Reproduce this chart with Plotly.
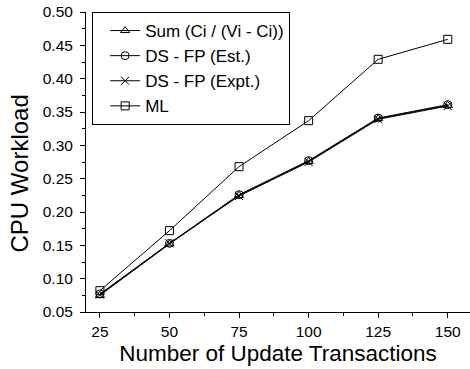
import plotly.graph_objects as go

x_vals = [25, 50, 75, 100, 125, 150]
sum_ci = [0.075, 0.152, 0.225, 0.276, 0.340, 0.360]
ds_fp_est = [0.077, 0.153, 0.226, 0.277, 0.341, 0.361]
ds_fp_expt = [0.076, 0.153, 0.224, 0.275, 0.339, 0.359]
ml = [0.082, 0.172, 0.268, 0.337, 0.429, 0.459]

series = [
    ("Sum (Ci / (Vi - Ci))", sum_ci, "triangle-up-open"),
    ("DS - FP (Est.)", ds_fp_est, "circle-open"),
    ("DS - FP (Expt.)", ds_fp_expt, "x-thin-open"),
    ("ML", ml, "square-open"),
]

fig = go.Figure()
for name, vals, sym in series:
    fig.add_trace(go.Scatter(
        x=x_vals, y=vals, name=name, mode="lines+markers",
        line=dict(color="black", width=1),
        marker=dict(symbol=sym, size=8, color="black",
                    line=dict(color="black", width=1)),
    ))

font = "Liberation Sans, Arial, sans-serif"
fig.update_layout(
    width=470, height=369,
    margin=dict(l=86, r=0, t=12, b=57),
    paper_bgcolor="white", plot_bgcolor="white",
    font=dict(family=font, color="black", size=15.5),
    showlegend=True,
    legend=dict(
        x=0.016, y=1, xanchor="left", yanchor="top",
        bordercolor="black", borderwidth=1, bgcolor="white",
        font=dict(size=17, family=font), indentation=12,
        tracegroupgap=0,
    ),
    xaxis=dict(
        range=[20, 158], tickmode="array", tickvals=x_vals,
        ticks="outside", ticklen=5, tickwidth=1, tickcolor="black",
        showline=True, linecolor="black", linewidth=1, showgrid=False,
        zeroline=False, mirror=False,
        tickfont=dict(size=15.5),
        minor=dict(ticks="outside", ticklen=3, tickwidth=1, tickcolor="black",
                   dtick=12.5, tick0=12.5, showgrid=False),
        title=dict(text="Number of Update Transactions", font=dict(size=22.5), standoff=6),
    ),
    yaxis=dict(
        range=[0.05, 0.50], dtick=0.05, tick0=0.05, tickformat=".2f",
        ticks="outside", ticklen=5, tickwidth=1, tickcolor="black",
        showline=True, linecolor="black", linewidth=1, showgrid=False,
        zeroline=False, mirror=False, ticklabelstandoff=4,
        tickfont=dict(size=15.5),
        minor=dict(ticks="outside", ticklen=3, tickwidth=1, tickcolor="black",
                   dtick=0.025, showgrid=False),
    ),
    annotations=[dict(
        text="CPU Workload", textangle=-90, showarrow=False,
        xref="paper", yref="paper", x=(18.5 - 86) / 384, y=(312 - 174) / 300,
        xanchor="center", yanchor="middle", font=dict(size=24, family=font),
    )],
)

fig.write_html("out.html")
